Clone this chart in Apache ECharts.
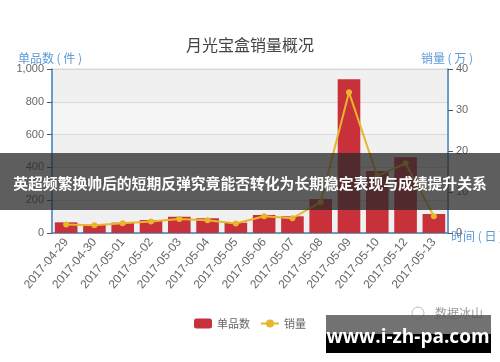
<!DOCTYPE html>
<html><head><meta charset="utf-8">
<script src="https://cdn.jsdelivr.net/npm/echarts@6/dist/echarts.min.js"></script>
<style>html,body{margin:0;padding:0;background:#fff}#c{width:500px;height:362px}</style>
</head><body><div id="c"></div>
<script>
const categories = ['2017-04-29','2017-04-30','2017-05-01','2017-05-02','2017-05-03','2017-05-04','2017-05-05','2017-05-06','2017-05-07','2017-05-08','2017-05-09','2017-05-10','2017-05-12','2017-05-13'];
const itemCounts = [65, 49, 63, 79, 99, 90, 63, 110, 102, 207, 938, 378, 462, 116];
const salesWan = [2.1, 1.9, 2.4, 2.8, 3.4, 3.1, 2.3, 4.1, 3.6, 7.5, 34.3, 13.9, 17.0, 4.1];
const leftTicks = [0, 200, 400, 600, 800, 1000];
const rightTicks = [0, 10, 20, 30, 40];

const chart = echarts.init(document.getElementById('c'));
const axisBlue = '#3f82c0';
const nameBlue = '#5b9bd5';
const cjk = '"Noto Sans CJK SC"';
chart.setOption({
  animation: false,
  title: { text: '月光宝盒销量概况', left: 'center', top: 32, textStyle: { fontSize: 16, fontWeight: 'normal', color: '#444', fontFamily: 'Noto Sans CJK SC' } },
  grid: { left: 52, right: 52, top: 69, bottom: 129, outerBoundsMode: 'none', containLabel: false, show: true, backgroundColor: '#f0f0f0', borderColor: '#dcdcdc', borderWidth: 1 },
  legend: { bottom: 28, left: 'center', itemWidth: 18, itemHeight: 10, itemGap: 10,
    textStyle: { color: '#666', fontSize: 11, fontFamily: 'Noto Sans CJK SC' },
    data: [{ name: '单品数', icon: 'roundRect' }, { name: '销量' }] },
  xAxis: { type: 'category', data: categories,
    axisLine: { lineStyle: { color: axisBlue, width: 1.5 } },
    axisTick: { lineStyle: { color: axisBlue } },
    axisLabel: { rotate: 50, color: '#666', fontSize: 12, interval: 0, margin: 7 } },
  yAxis: [
    { type: 'value', min: 0, max: 1000, interval: 200,
      axisLine: { show: true, lineStyle: { color: axisBlue, width: 1.5 } },
      axisTick: { show: true, lineStyle: { color: '#555' } },
      axisLabel: { color: '#666', fontSize: 11, formatter: v => leftTicks.includes(v) ? v.toLocaleString('en-US') : '' },
      splitLine: { lineStyle: { color: '#d8d8d8' } },
      splitArea: { show: true, areaStyle: { color: ['#f0f0f0', '#f5f5f5'] } } },
    { type: 'value', min: 0, max: 40, interval: 10,
      axisLine: { show: true, lineStyle: { color: axisBlue, width: 1.5 } },
      axisTick: { show: true, lineStyle: { color: '#555' } },
      axisLabel: { color: '#666', fontSize: 11, formatter: v => rightTicks.includes(v) ? String(v) : '' },
      splitLine: { show: false } }
  ],
  series: [
    { name: '单品数', type: 'bar', data: itemCounts, barCategoryGap: '20%', itemStyle: { color: '#c8303a' } },
    { name: '销量', type: 'line', yAxisIndex: 1, data: salesWan, symbol: 'circle', symbolSize: 6,
      lineStyle: { color: '#e8b62c', width: 2 }, itemStyle: { color: '#e8b62c' } }
  ],
  graphic: [
    { type: 'text', x: 50, y: 58, style: { text: '单品数 ( 件 )', fill: nameBlue, font: '12px ' + cjk, align: 'center', verticalAlign: 'middle' } },
    { type: 'text', x: 447, y: 58, style: { text: '销量 ( 万 )', fill: nameBlue, font: '12px ' + cjk, align: 'center', verticalAlign: 'middle' } },
    { type: 'text', x: 451, y: 236, style: { text: '时间 ( 日 )', fill: nameBlue, font: '12px ' + cjk, align: 'left', verticalAlign: 'middle' } },
    { type: 'rect', left: 0, top: 153, shape: { width: 500, height: 57 }, style: { fill: 'rgba(40,40,40,0.75)' }, z: 100 },
    { type: 'text', x: 250, y: 183, style: { text: '英超频繁换帅后的短期反弹究竟能否转化为长期稳定表现与成绩提升关系', fill: '#fff', font: 'bold 14.8px ' + cjk, align: 'center', verticalAlign: 'middle' }, z: 101 },
    { type: 'circle', shape: { cx: 418, cy: 313, r: 6 }, style: { fill: 'none', stroke: '#bbb', lineWidth: 1 }, z: 99 },
    { type: 'text', x: 435, y: 313, style: { text: '数据冰山', fill: '#999', font: '12px ' + cjk, align: 'left', verticalAlign: 'middle' }, z: 100 },
    { type: 'rect', left: 326, top: 315, shape: { width: 165, height: 38 }, style: { fill: {type:'linear',x:0,y:0,x2:0,y2:1,colorStops:[{offset:0,color:'rgba(90,90,90,0.85)'},{offset:0.5,color:'rgba(90,90,90,0.85)'},{offset:0.5,color:'#000'},{offset:1,color:'#000'}]} }, z: 100 },
    { type: 'text', x: 408, y: 338, style: { text: 'www.i-zh-pa.com', fill: '#fff', font: 'bold 19px "Open Sans"', align: 'center', verticalAlign: 'middle' }, z: 101 }
  ]
});
</script></body></html>
